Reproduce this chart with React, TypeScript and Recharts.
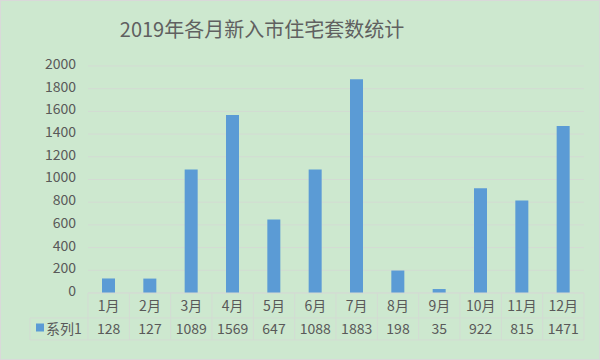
import React from 'react';
import { BarChart, Bar, XAxis, YAxis, CartesianGrid } from 'recharts';

const months = ['1月', '2月', '3月', '4月', '5月', '6月', '7月', '8月', '9月', '10月', '11月', '12月'];
const values = [128, 127, 1089, 1569, 647, 1088, 1883, 198, 35, 922, 815, 1471];
const yTicks = [0, 200, 400, 600, 800, 1000, 1200, 1400, 1600, 1800, 2000];
const seriesName = '系列1';
const title = '2019年各月新入市住宅套数统计';

const data = months.map((m, i) => ({ month: m, value: values[i] }));

const W = 600;
const H = 360;
const PLOT_LEFT = 87;
const PLOT_RIGHT = 583;
const COL = (PLOT_RIGHT - PLOT_LEFT) / months.length;
const ROW1 = 25;
const ROW2 = 22;
const LEGEND_LEFT = 29;
const LINE = '#d3dbd3';
const TEXT = '#595959';
const FONT = '"Noto Sans CJK SC", "Noto Sans", sans-serif';
const BAR = '#5b9bd5';

const TableTick = (props: any) => {
  const { x, y, payload, index } = props;
  const left = x - COL / 2;
  const right = x + COL / 2;
  const top = y;
  const mid = top + ROW1;
  const bottom = mid + ROW2;
  const v = values[index];
  return (
    <g>
      {index === 0 && (
        <g>
          <line x1={PLOT_LEFT} y1={top} x2={PLOT_RIGHT} y2={top} stroke={LINE} />
          <line x1={LEGEND_LEFT} y1={mid} x2={PLOT_RIGHT} y2={mid} stroke={LINE} />
          <line x1={LEGEND_LEFT} y1={bottom} x2={PLOT_RIGHT} y2={bottom} stroke={LINE} />
          <line x1={LEGEND_LEFT} y1={mid} x2={LEGEND_LEFT} y2={bottom} stroke={LINE} />
          <rect x={35} y={mid + 5.5} width={8} height={8} fill={BAR} />
          <text x={45} y={mid + ROW2 / 2} dy="0.36em" fill={TEXT} fontSize={14} fontFamily={FONT}>
            {seriesName}
          </text>
        </g>
      )}
      <line x1={left} y1={top} x2={left} y2={bottom} stroke={LINE} />
      {index === months.length - 1 && <line x1={right} y1={top} x2={right} y2={bottom} stroke={LINE} />}
      <text x={x} y={top + ROW1 / 2} dy="0.36em" textAnchor="middle" fill={TEXT} fontSize={14} fontFamily={FONT}>
        {payload.value}
      </text>
      <text x={x} y={mid + ROW2 / 2} dy="0.36em" textAnchor="middle" fill={TEXT} fontSize={14} fontFamily={FONT}>
        {v}
      </text>
    </g>
  );
};

export default function App() {
  return (
    <div
      style={{
        position: 'fixed',
        left: 0,
        top: 0,
        width: W,
        height: H,
        background: '#cde8cf',
        border: '1px solid #d9d9d9',
        boxSizing: 'border-box',
        overflow: 'hidden',
      }}
    >
      <div
        style={{
          position: 'absolute',
          left: 0,
          top: 0,
          width: W,
          height: H,
        }}
      >
        <BarChart
          width={W}
          height={H}
          data={data}
          margin={{ top: 65, right: W - PLOT_RIGHT, left: 0, bottom: 0 }}
        >
          <CartesianGrid vertical={false} stroke={LINE} strokeWidth={1} />
          <XAxis
            dataKey="month"
            height={H - 292}
            axisLine={false}
            tickLine={false}
            tickSize={0}
            tickMargin={0}
            interval={0}
            tick={<TableTick />}
          />
          <YAxis
            width={PLOT_LEFT}
            domain={[0, 2000]}
            ticks={yTicks}
            interval={0}
            axisLine={false}
            tickLine={false}
            tickSize={0}
            tickMargin={12}
            tick={{ fill: TEXT, fontSize: 14, fontFamily: FONT, dy: -2 }}
          />
          <Bar dataKey="value" fill={BAR} barSize={13} isAnimationActive={false} />
        </BarChart>
      </div>
      <div
        style={{
          position: 'absolute',
          left: 261,
          top: 15,
          transform: 'translateX(-50%)',
          whiteSpace: 'nowrap',
          fontSize: 20,
          lineHeight: '26px',
          color: '#606060',
          fontFamily: FONT,
        }}
      >
        {title}
      </div>
    </div>
  );
}
